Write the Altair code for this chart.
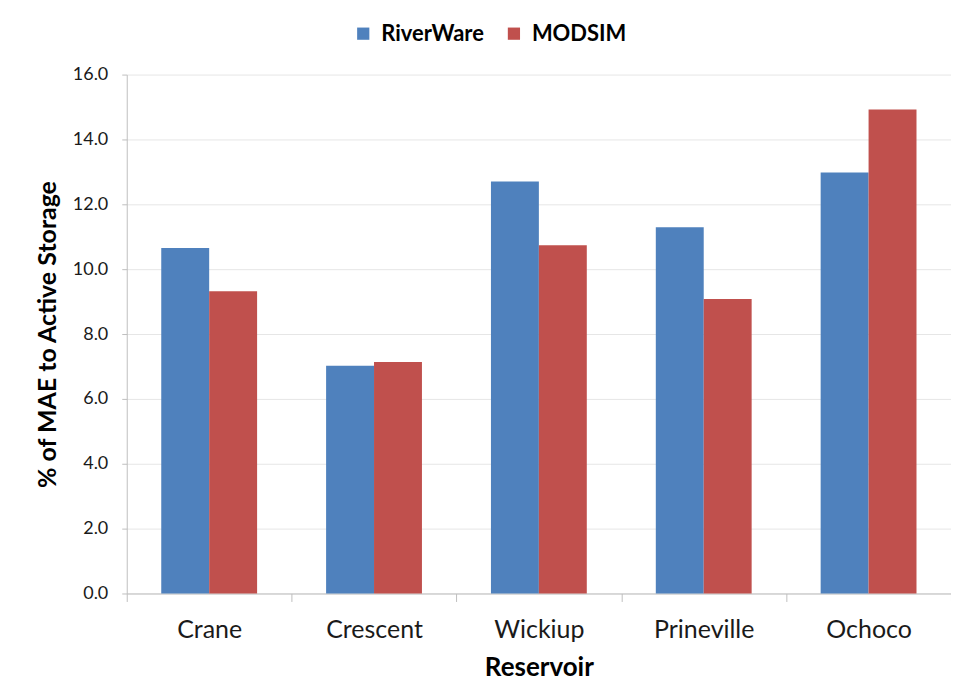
import altair as alt
import pandas as pd

reservoirs = ["Crane", "Crescent", "Wickiup", "Prineville", "Ochoco"]
series = ["RiverWare", "MODSIM"]
riverware = [10.65, 7.02, 12.70, 11.29, 12.98]
modsim = [9.32, 7.14, 10.74, 9.08, 14.92]
colors = ["#4F81BD", "#C0504D"]
y_ticks = [0, 2, 4, 6, 8, 10, 12, 14, 16]

rows = []
for i, r in enumerate(reservoirs):
    rows.append({"Reservoir": r, "Model": "RiverWare", "Value": riverware[i]})
    rows.append({"Reservoir": r, "Model": "MODSIM", "Value": modsim[i]})
df = pd.DataFrame(rows)

FONT = "Lato"

chart = alt.Chart(df).mark_bar().encode(
    x=alt.X(
        "Reservoir:N",
        sort=reservoirs,
        scale=alt.Scale(paddingInner=0, paddingOuter=0),
        axis=alt.Axis(
            title="Reservoir",
            labelAngle=0,
            tickBand="extent",
            labelFont=FONT,
            labelFontSize=25,
            labelColor="#1a1a1a",
            labelPadding=16,
            titleFont=FONT,
            titleFontSize=26,
            titleFontWeight="bold",
            titleColor="#000000",
            titlePadding=12,
            domainColor="#BFBFBF",
            tickColor="#BFBFBF",
            tickSize=8,
            grid=False,
        ),
    ),
    xOffset=alt.XOffset("Model:N", sort=series,
                        scale=alt.Scale(paddingInner=0, paddingOuter=0.72)),
    y=alt.Y(
        "Value:Q",
        scale=alt.Scale(domain=[0, 16]),
        axis=alt.Axis(
            values=y_ticks,
            format=".1f",
            title="% of MAE to Active Storage",
            labelFont=FONT,
            labelFontSize=18,
            labelColor="#1a1a1a",
            labelPadding=14,
            titleFont=FONT,
            titleFontSize=25,
            titleFontWeight="bold",
            titleColor="#000000",
            titlePadding=12,
            domainColor="#BFBFBF",
            tickColor="#BFBFBF",
            tickSize=5,
            gridColor="#E6E6E6",
        ),
    ),
    color=alt.Color(
        "Model:N",
        sort=series,
        scale=alt.Scale(domain=series, range=colors),
        legend=alt.Legend(
            title=None,
            orient="none",
            legendX=226,
            legendY=-52,
            direction="horizontal",
            symbolType="square",
            symbolSize=150,
            symbolStrokeWidth=0,
            labelFont=FONT,
            labelFontSize=22,
            labelFontWeight="bold",
            labelColor="#000000",
            labelOffset=7,
            columnPadding=18,
        ),
    ),
).properties(
    width=826,
    height=520,
    padding={"left": 119, "top": 66, "right": 0, "bottom": 94},
    autosize="none",
).configure_view(stroke=None)

chart.save("out.html", embed_options={"renderer": "svg", "actions": False})
